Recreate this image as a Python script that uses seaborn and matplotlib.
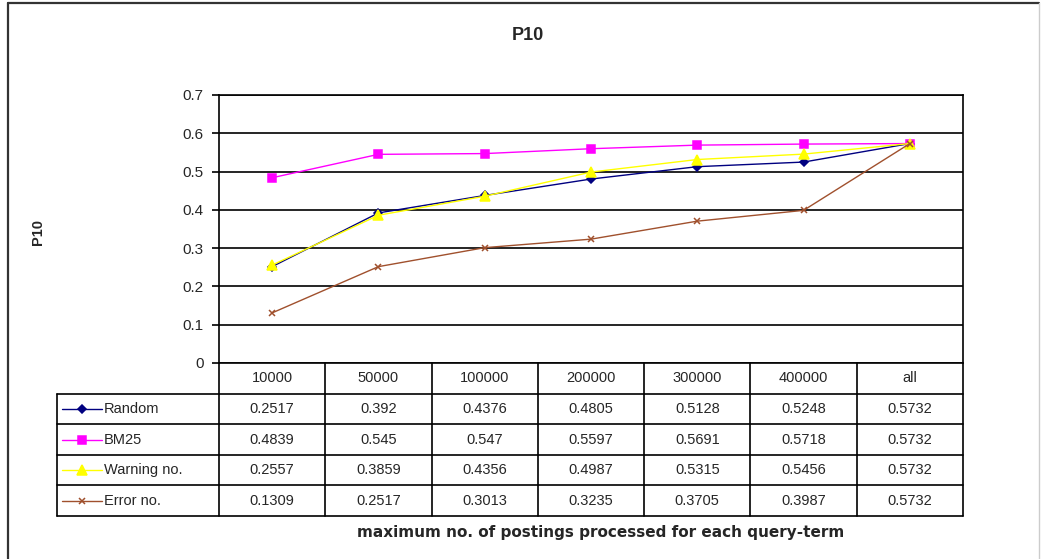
import matplotlib
matplotlib.use("Agg")
import matplotlib.pyplot as plt
import seaborn as sns
import numpy as np

sns.set_theme(style="white")
plt.rcParams["font.family"] = ["Liberation Sans", "DejaVu Sans"]

# --- data -------------------------------------------------------------
categories = ["10000", "50000", "100000", "200000", "300000", "400000", "all"]
series_names = ["Random", "BM25", "Warning no.", "Error no."]
random_vals = [0.2517, 0.392, 0.4376, 0.4805, 0.5128, 0.5248, 0.5732]
bm25_vals = [0.4839, 0.545, 0.547, 0.5597, 0.5691, 0.5718, 0.5732]
warning_vals = [0.2557, 0.3859, 0.4356, 0.4987, 0.5315, 0.5456, 0.5732]
error_vals = [0.1309, 0.2517, 0.3013, 0.3235, 0.3705, 0.3987, 0.5732]
y_ticks = [0, 0.1, 0.2, 0.3, 0.4, 0.5, 0.6, 0.7]

title = "P10"
y_label = "P10"
x_label = "maximum no. of postings processed for each query-term"

# --- styling ----------------------------------------------------------
colors = ["#000080", "#FF00FF", "#FFFF00", "#A0502D"]
markers = ["D", "s", "^", "x"]
msizes = [4.5, 5.5, 6.5, 4.5]
all_vals = [random_vals, bm25_vals, warning_vals, error_vals]

W, H = 1042, 559
fig = plt.figure(figsize=(W / 100, H / 100), dpi=100)
fig.patch.set_facecolor("white")


def fx(px):
    return px / W


def fy(py):
    return 1 - py / H


# outer chart border
border_kw = dict(color="#333333", lw=1.6, transform=fig.transFigure, clip_on=False)
fig.add_artist(plt.Line2D([fx(8), fx(8)], [fy(3), fy(562)], **border_kw))
fig.add_artist(plt.Line2D([fx(8), fx(1039)], [fy(3), fy(3)], **border_kw))
fig.add_artist(plt.Line2D([fx(1039), fx(1039)], [fy(3), fy(562)],
                          color="#cccccc", lw=1.0, transform=fig.transFigure))

# --- plot area --------------------------------------------------------
L, R, T, B = 219, 963, 95, 363
ax = fig.add_axes([fx(L), fy(B), fx(R) - fx(L), fy(T) - fy(B)])
positions = np.arange(len(categories))
for name, vals, c, m, ms in zip(series_names, all_vals, colors, markers, msizes):
    sns.lineplot(x=positions, y=vals, ax=ax, color=c, marker=m, markersize=ms,
                 markeredgecolor=c, markerfacecolor=c, markeredgewidth=1.1,
                 linewidth=1.0, label=name, legend=False)

ax.set_xlim(-0.5, len(categories) - 0.5)
ax.set_ylim(0, 0.7)
ax.set_yticks(y_ticks)
ax.set_yticklabels([f"{t:g}" for t in y_ticks], fontsize=11)
ax.set_xticks([])
ax.yaxis.grid(True, color="black", lw=1.2)
ax.xaxis.grid(False)
ax.tick_params(axis="y", which="both", left=True, length=5, width=1.2,
               color="black", pad=6)
for side in ["left", "right", "top"]:
    ax.spines[side].set_visible(True)
    ax.spines[side].set_color("black")
    ax.spines[side].set_linewidth(1.2)
ax.spines["bottom"].set_visible(False)
ax.set_facecolor("white")

fig.text(fx(528), fy(36), title, ha="center", va="center",
         fontsize=13, fontweight="bold")
fig.text(fx(38), fy(232), y_label, ha="center", va="center", rotation=90,
         fontsize=10.5, fontweight="bold")
fig.text(fx(601), fy(533), x_label, ha="center", va="center",
         fontsize=11, fontweight="bold", family=["DejaVu Sans"])

# --- data table below the plot ----------------------------------------
TL, TB = 57, 516
tax = fig.add_axes([fx(TL), fy(TB), fx(R) - fx(TL), fy(B) - fy(TB)])
colw = (R - L) / len(categories)
x_left = -0.5 - (L - TL) / colw
n_rows = len(series_names) + 1
tax.set_xlim(x_left, len(categories) - 0.5)
tax.set_ylim(n_rows, 0)
tax.axis("off")


def px2x(px):
    return (px - L) / colw - 0.5


line_kw = dict(color="black", lw=1.2, clip_on=False)
# horizontal rules
tax.plot([-0.5, len(categories) - 0.5], [0, 0], **line_kw)
for r in range(1, n_rows + 1):
    tax.plot([x_left, len(categories) - 0.5], [r, r], **line_kw)
# vertical rules
tax.plot([x_left, x_left], [1, n_rows], **line_kw)
for i in range(len(categories) + 1):
    tax.plot([i - 0.5, i - 0.5], [0, n_rows], **line_kw)

cell_fs = 10.5
for i, cat in enumerate(categories):
    tax.text(i, 0.5, cat, ha="center", va="center", fontsize=cell_fs)
for r, (name, vals, c, m, ms) in enumerate(
        zip(series_names, all_vals, colors, markers, msizes), start=1):
    yc = r + 0.5
    tax.plot([px2x(62), px2x(102)], [yc, yc], color=c, lw=1.0, clip_on=False)
    tax.plot([px2x(82)], [yc], marker=m, color=c, markersize=ms,
             markeredgecolor=c, markeredgewidth=1.1, clip_on=False)
    tax.text(px2x(104), yc, name, ha="left", va="center", fontsize=cell_fs)
    for i, v in enumerate(vals):
        tax.text(i, yc, f"{v:g}", ha="center", va="center", fontsize=cell_fs)

fig.savefig("out.png", dpi=100, facecolor="white")
